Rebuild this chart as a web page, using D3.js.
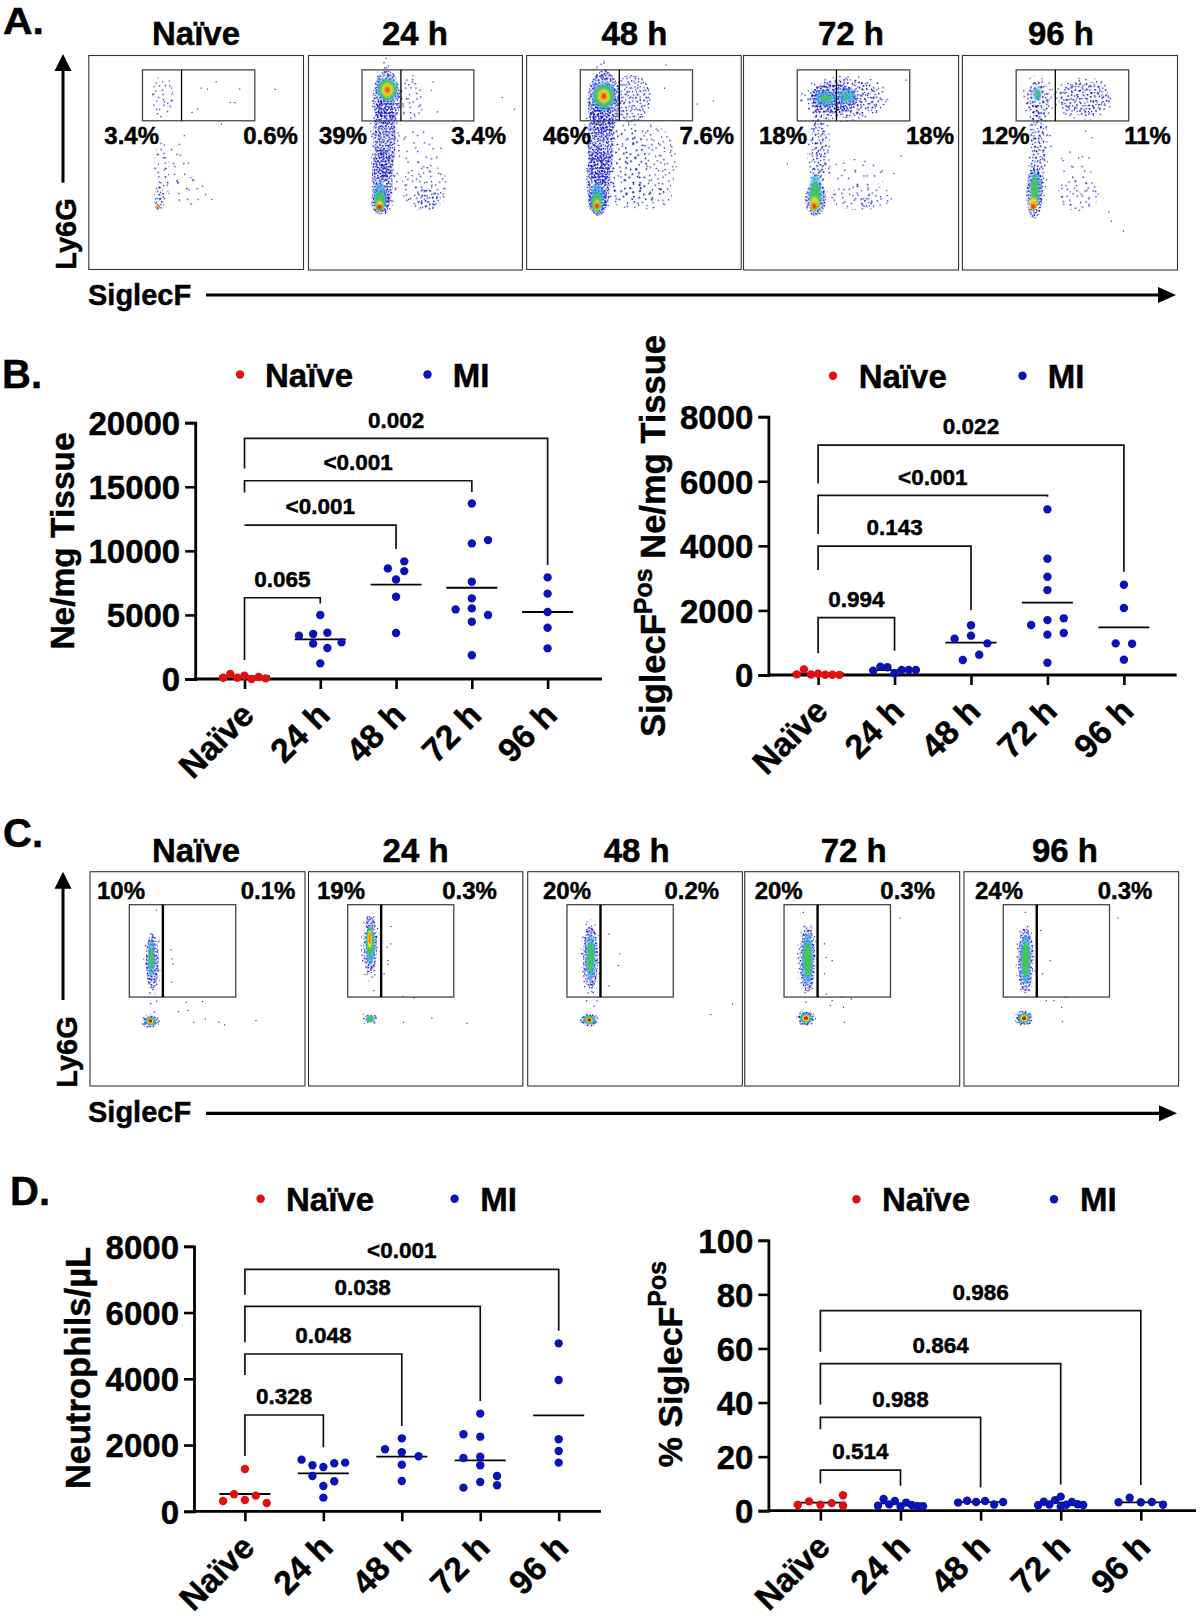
<!DOCTYPE html>
<html>
<head>
<meta charset="utf-8">
<script src="https://cdnjs.cloudflare.com/ajax/libs/d3/7.8.5/d3.min.js"></script>
<style>
body { margin: 0; background: #fff; }
text { font-family: "Liberation Sans", Arial, sans-serif; font-weight: bold; fill: #000; stroke: #000; stroke-width: 0.45px; }
</style>
</head>
<body>
<svg id="chart" width="1200" height="1620"></svg>
<script>
var _ = null; // empty swarm slot

var groups = ["Naïve", "24 h", "48 h", "72 h", "96 h"];
var pctTicks = [0, 20, 40, 60, 80, 100];
var neTicks = [0, 5000, 10000, 15000, 20000];
var k8Ticks = [0, 2000, 4000, 6000, 8000];

// swarm values, row by row inside each group
var neTissue = [
  [[100, 390, 100, 260, 0, 160, 50]],
  [[4990], [3380, 3510, 3610, 2860], [2760, 2420], [1220]],
  [[_, 9180], [8630, 8420], [7770], [6420], [3590]],
  [[13700], [_, 10580, 10840], [7590], [6290], [5430, 5510, 4990], [4470], [1850]],
  [[7930], [6660], [5230], [4000], [2390]]
];
var neTissueMeans = [200, 3090, 7360, 7120, 5230];
var neTissueBrackets = [
  ["0.065", 1, 6340, 1480, 5900],
  ["<0.001", 2, 12010, 12010, 10140],
  ["<0.001", 3, 15470, 14560, 14600],
  ["0.002", 4, 18770, 16430, 8890]
];

var siglecTissue = [
  [[20, 175, 15, 40, 10, 10, 5]],
  [[135, 260, 240, 50, 155, 155, 155]],
  [[1540], [1125, 1218, 980], [465, 630]],
  [[5130], [3600], [3045], [2630], [1550, 1700, 1755], [_, 1250, 1300], [380]],
  [[2797], [2074], [980, 970], [475]]
];
var siglecTissueMeans = [50, 150, 1000, 2240, 1476];
var siglecTissueBrackets = [
  ["0.994", 1, 1775, 670, 753],
  ["0.143", 2, 3994, 3250, 2012],
  ["<0.001", 3, 5562, 4365, 5520],
  ["0.022", 4, 7120, 5934, 3200]
];

var neutrophils = [
  [[1278], [513, _, 473], [312, _, 342, _, 250]],
  [[1559, 1388, 1338, 1449, 1469], [1066, _, 905], [765], [412]],
  [[2203], [1871, 1781, 1660], [1408], [915]],
  [[2948], [2324, 2253, _], [1610, 1650, _], [1388], [_, _, 1066], [_, 885, 785], [714, _, _]],
  [[5070], [3964], [2173], [1821], [1469]]
];
var neutrophilMeans = [523, 1147, 1650, 1540, 2897];
var neutrophilBrackets = [
  ["0.328", 1, 2907, 1670, 1931],
  ["0.048", 2, 4748, 4114, 2575],
  ["0.038", 3, 6187, 5100, 3330],
  ["<0.001", 4, 7304, 6539, 5453]
];

var siglecPct = [
  [[_, _, _, _, 5.7], [2.1, 3.45, 2.2, 2.8, 1.85]],
  [[1.85, 4.3, 2.35, 3.6, 1.5, 3.0, 2.1, 1.7, 1.6]],
  [[3.0, 3.7, 3.2, 3.6, 2.3, 3.2]],
  [[5.2], [2.0, 3.3, 2.3, 3.9, 1.5, 2.2, 3.2, 2.4, 2.1]],
  [[3.1, 4.8, 3.1, 3.2, 2.2]]
];
var siglecPctMeans = [3, 2.7, 3.2, 3, 3.1];
var siglecPctBrackets = [
  ["0.514", 1, 15.0, 10.1, 9.25],
  ["0.988", 2, 34.5, 30.1, 8.6],
  ["0.864", 3, 54.4, 39.3, 9.7],
  ["0.986", 4, 74.0, 58.8, 9.5]
];

// flow plots: percent gates read for each group
var gateA = { left: 25, mid: 43.2, right: 77.3, low: 69.5, high: 93.3 };
var gateC = { left: 18.3, mid: 33.9, right: 67.8, low: 41.5, high: 84.6 };
var percentA = [["3.4%", "0.6%"], ["39%", "3.4%"], ["46%", "7.6%"], ["18%", "18%"], ["12%", "11%"]];
var percentC = [["10%", "0.1%"], ["19%", "0.3%"], ["20%", "0.2%"], ["20%", "0.3%"], ["24%", "0.3%"]];

// density clouds: [level, x, y, rx, ry] on the 0-100 plot axes, level 0-3 blue speckle, 4-8 hot colours
var cloudsA = [
  [[1, 34.4, 80.7, 5, 10], [1, 33.9, 46, 3.6, 15], [2, 32.8, 33, 2.4, 6.5], [0, 46, 36.3, 9, 7], [0, 41, 48, 6, 12],
   [6, 32.3, 29.4, 0.8, 1.2], [8, 32.1, 29, 0.6, 0.7]],
  [[1, 36, 62, 7.2, 36], [3, 36.5, 80, 6.4, 13], [3, 35.5, 62, 5.2, 20], [3, 34.5, 42, 5, 15], [3, 33.6, 32, 4.4, 6],
   [1, 48, 80, 6, 11], [0, 52.6, 57, 10, 10], [1, 54.4, 38.6, 11, 11], [2, 56, 33, 6, 5],
   [4, 36.9, 84, 4.8, 5.8], [5, 36.9, 84, 3.8, 4.6], [6, 36.9, 84, 2.8, 3.2], [7, 36.9, 84, 1.6, 1.9], [8, 36.9, 84, 0.7, 0.9],
   [4, 33.5, 34, 2.8, 7], [5, 33.4, 32, 2.2, 4.6], [6, 33.3, 30, 1.6, 2.4], [8, 33.2, 29.2, 1.1, 1.3]],
  [[1, 35, 62, 8, 36], [3, 36, 78, 7.6, 15], [3, 34.5, 60, 6, 22], [3, 33.5, 41, 5.6, 16], [3, 33, 32, 4.6, 6], [2, 49, 80, 9, 11],
   [1, 47, 50, 9, 20], [1, 57, 50, 13, 18], [1, 53, 34, 15, 6],
   [4, 36, 81, 5.4, 6.4], [5, 36, 81, 4.4, 5], [6, 36, 81, 2.8, 3.2], [7, 36, 81, 1.7, 2], [8, 36, 81, 0.8, 1],
   [4, 32.9, 33, 2.8, 7], [5, 32.8, 31.5, 2.2, 4.4], [6, 32.8, 30.2, 1.6, 2.4], [8, 32.8, 29.8, 1, 1.2]],
  [[1, 47.1, 80, 21, 11], [2, 47, 80, 17, 9], [3, 42, 80, 11, 7], [1, 35, 54, 5.4, 27], [2, 35, 56, 3.4, 22], [3, 33.5, 33, 4.8, 8],
   [4, 38.3, 80, 5, 3.4], [4, 48, 81, 4, 3.2], [5, 38.3, 80, 2.4, 1.5], [5, 48, 81, 1.6, 1.1],
   [0, 53, 45, 14, 7], [1, 54.2, 34, 15, 6], [2, 57, 31.6, 3, 2.5],
   [4, 33.4, 36, 2.8, 8.5], [5, 33.3, 34, 2.3, 6.5], [6, 33, 31, 1.9, 3.2], [7, 32.9, 30, 1.3, 1.8], [8, 32.9, 29.6, 0.8, 1]],
  [[1, 35.2, 80, 7.5, 11], [2, 35.2, 80, 5.4, 8], [1, 56.5, 80, 14, 10], [2, 56.5, 80, 12, 8], [1, 35.2, 54, 4.6, 27], [2, 35, 54, 3.4, 24], [3, 33.5, 36, 3.8, 12],
   [0, 40, 60, 3, 8], [0, 53, 49, 8, 7], [1, 53.9, 35.5, 9.5, 8],
   [4, 34.9, 82, 2, 3], [5, 34.9, 82, 1, 1.6],
   [4, 33.8, 38, 2.2, 8], [5, 33.6, 37, 1.7, 6.5], [6, 33, 31, 1.8, 2.8], [7, 32.9, 30, 1.2, 1.6], [8, 32.9, 29.6, 0.8, 1]]
];
var straysA = [
  [[86.5, 84.4], [70, 84.6], [59, 88], [55, 84.6], [61.5, 68.2], [65.6, 78.3], [67.7, 78.3], [47.8, 73.7], [50.4, 75.2], [44.2, 62.8], [52, 85], [48, 42], [57, 33]],
  [[36, 99], [90.3, 80.7], [96, 75.2], [57, 84], [60, 74], [58, 88]],
  [[64.7, 95.8], [86.8, 79], [79.3, 77.6], [64, 85]],
  [[75.3, 88.8], [20.1, 49.8], [73, 53.4], [69.6, 45.3]],
  [[67.8, 27.3], [69, 23], [74.6, 18.4], [60, 62], [57, 65]]
];
var cloudsC = [
  [[1, 29, 58, 4.2, 16], [3, 29, 58, 3, 13], [0, 29, 37, 3.5, 5], [4, 28.5, 59.6, 1.7, 8.5], [5, 28.5, 59.6, 1, 4.5],
   [2, 28.1, 30.3, 4.6, 3.2], [3, 28.1, 30.3, 3.6, 2.6], [4, 28.1, 30.3, 2.8, 2.1], [5, 28.1, 30.3, 2.1, 1.6], [6, 28.1, 30.3, 1.4, 1.2], [8, 28.1, 30.3, 0.9, 0.8]],
  [[1, 28.8, 65, 4.5, 16.5], [3, 28.8, 66, 3.2, 13.5], [4, 28.8, 66, 2.2, 9], [5, 28.7, 67, 1.6, 6.5], [6, 28.6, 68.5, 1, 4.2], [7, 28.6, 69, 0.7, 2.8],
   [1, 28.8, 31.3, 4.6, 3.2], [2, 28.8, 31.3, 3, 2.2], [4, 28.8, 31.3, 2.2, 1.6], [5, 28.8, 31.3, 1.4, 1.1]],
  [[1, 29.3, 60, 4.8, 18], [3, 29.3, 60, 3.5, 15], [0, 30, 39, 3, 4], [4, 29.3, 60, 2.3, 10.5], [5, 29.3, 60, 1.5, 7],
   [2, 28.7, 30.8, 4.5, 3.2], [3, 28.7, 30.8, 3.6, 2.8], [4, 28.7, 30.8, 2.8, 2.2], [5, 28.7, 30.8, 2.1, 1.7], [6, 28.7, 30.8, 1.4, 1.2], [8, 28.7, 30.8, 0.9, 0.8]],
  [[1, 29.2, 59, 4.9, 17], [3, 29.2, 59, 3.7, 15], [0, 29, 40, 1.6, 3], [4, 29.2, 59, 2.6, 11.5], [5, 29.2, 59, 1.8, 8],
   [2, 28.5, 31.6, 4.6, 3.8], [3, 28.5, 31.6, 3.7, 3.1], [4, 28.5, 31.6, 2.9, 2.5], [5, 28.5, 31.6, 2.3, 1.9], [6, 28.5, 31.6, 1.6, 1.4], [8, 28.5, 31.6, 1, 0.9]],
  [[1, 28.7, 59, 4.7, 17], [3, 28.7, 59, 3.6, 15], [0, 28.5, 40, 1.6, 3], [4, 28.7, 59, 2.5, 11.5], [5, 28.7, 59, 1.7, 8],
   [2, 28, 31.6, 4.6, 3.8], [3, 28, 31.6, 3.7, 3.1], [4, 28, 31.6, 2.9, 2.5], [5, 28, 31.6, 2.3, 1.9], [6, 28, 31.6, 1.6, 1.4], [8, 28, 31.6, 1, 0.9]]
];
var straysC = [
  [[37.4, 63.8], [38.3, 57.2], [37.7, 48.7], [37.9, 59.6], [44.5, 39.3], [52.1, 39.7], [40.9, 35], [45.4, 35.5], [48, 30], [53.4, 31.6], [59.6, 30], [62.3, 28.8], [30.6, 82.4], [76.9, 30.8]],
  [[38.2, 74.7], [38.2, 66.6], [36.4, 65], [36.8, 58.8], [36.8, 57.2], [35, 52.6], [30.2, 44.8], [44, 42.1], [48.9, 41.4], [44, 30], [57.3, 31.9], [73.6, 29.5]],
  [[95.1, 38.6], [85, 33.6], [42.6, 61.9], [37.6, 71.2], [42, 56.5], [37.5, 47]],
  [[36.8, 66.6], [37.7, 60.3], [40.4, 58.8], [36.8, 52.6], [37.7, 43.2], [40.4, 40.1], [44.8, 41.7], [49.3, 40.9], [39.5, 37.8], [45.7, 37], [46.1, 30], [71.9, 78.7], [27, 81.3]],
  [[35.5, 72.8], [39.9, 58.8], [36.3, 52.6], [38.1, 40.1], [41.7, 40.1], [47, 41.7], [45.2, 37], [45.6, 30.3], [71.5, 78.7], [28.3, 81.3]]
];
// speckle tile, first entries used for the thin levels
var speckle = [[3,2],[13,5],[7,12],[17,15],[1,18],[10,9],[15,1],[5,7],[19,10],[12,17],
  [8,3],[2,11],[16,7],[6,16],[11,13],[18,19],[4,14],[14,11],[9,19],[0,5],
  [11,2],[6,4],[17,3],[1,8],[13,8],[8,7],[3,17],[15,17],[10,15],[19,13],
  [5,10],[16,12],[12,0],[2,5],[7,18],[18,6],[4,0],[9,12],[14,14],[0,14],
  [6,1],[15,9],[11,6],[3,9],[17,18],[8,15],[19,1],[13,19],[1,15],[5,13],
  [10,4],[16,4],[12,11],[7,9],[2,19],[18,16],[4,4],[14,6],[9,16],[0,11]];
var speckleCounts = [4, 10, 28, 60];
var speckleTiles = [{ name: "a", size: 20, turn: 17 }, { name: "b", size: 27, turn: -31 }];
var hotColors = { 4: "#35a9e6", 5: "#45c45c", 6: "#dfe22b", 7: "#f29a1f", 8: "#e01313" };

var RED = "#e01010";
var BLUE = "#0a14b4";

var svg = d3.select("#chart");
var defs = svg.append("defs");
defs.append("filter").attr("id", "soft").append("feGaussianBlur").attr("stdDeviation", 1.2);
defs.append("filter").attr("id", "tight").append("feGaussianBlur").attr("stdDeviation", 0.6);
speckleCounts.forEach(function(count, lvl) {
  speckleTiles.forEach(function(tile) {
    var k = tile.size / 20;
    var p = defs.append("pattern").attr("id", "speck" + tile.name + lvl)
      .attr("patternUnits", "userSpaceOnUse").attr("width", tile.size).attr("height", tile.size)
      .attr("patternTransform", "rotate(" + tile.turn + ")");
    p.selectAll("rect").data(speckle.slice(0, count)).enter().append("rect")
      .attr("x", function(d) { return d[0] * k; }).attr("y", function(d) { return d[1] * k; })
      .attr("width", 1.3).attr("height", 1.3).attr("fill", "#1418c8");
  });
});

function label(txt, x, y, size, anchor) {
  return svg.append("text").attr("x", x).attr("y", y).attr("font-size", size)
    .attr("text-anchor", anchor || "middle").text(txt);
}

function flowPlot(box, gate, clouds, strays, blur) {
  var x = d3.scaleLinear().domain([0, 100]).range([box[0], box[1]]);
  var y = d3.scaleLinear().domain([0, 100]).range([box[3], box[2]]);
  var g = svg.append("g");
  var cold = clouds.filter(function(d) { return d[0] < 4; });
  var hot = clouds.filter(function(d) { return d[0] >= 4; });
  function ellipses(sel) {
    sel.attr("cx", function(d) { return x(d[1]); }).attr("cy", function(d) { return y(d[2]); })
      .attr("rx", function(d) { return x(d[3]) - x(0); }).attr("ry", function(d) { return y(0) - y(d[4]); });
  }
  speckleTiles.forEach(function(tile) {
    g.append("g").selectAll("ellipse").data(cold).enter().append("ellipse").call(ellipses)
      .attr("fill", function(d) { return "url(#speck" + tile.name + d[0] + ")"; });
  });
  g.append("g").selectAll("ellipse").data(hot.slice().sort(function(a, b) { return a[0] - b[0]; })).enter().append("ellipse").call(ellipses)
    .attr("fill", function(d) { return hotColors[d[0]]; })
    .attr("filter", "url(#" + blur + ")")
    .attr("opacity", function(d) { return d[0] == 4 ? 0.7 : 1; });
  g.selectAll("rect.stray").data(strays).enter().append("rect").attr("class", "stray")
    .attr("x", function(d) { return x(d[0]); }).attr("y", function(d) { return y(d[1]); })
    .attr("width", 1.2).attr("height", 1.2).attr("fill", "#3a3aa0");
  g.append("rect").attr("x", box[0]).attr("y", box[2]).attr("width", box[1] - box[0]).attr("height", box[3] - box[2])
    .attr("fill", "none").attr("stroke", "#333").attr("stroke-width", 1.1);
  g.append("rect").attr("x", x(gate.left)).attr("y", y(gate.high))
    .attr("width", x(gate.right) - x(gate.left)).attr("height", y(gate.low) - y(gate.high))
    .attr("fill", "none").attr("stroke", "#444").attr("stroke-width", 1.3);
  g.append("line").attr("x1", x(gate.mid)).attr("x2", x(gate.mid)).attr("y1", y(gate.high)).attr("y2", y(gate.low))
    .attr("stroke", "#000").attr("stroke-width", gate.midWidth || 1.3);
}

function arrows(axisX, headTop, shaftEnd, yTextMid, yBase, sigBase, arrowY, tip) {
  // Ly6G up arrow
  svg.append("line").attr("x1", axisX).attr("x2", axisX).attr("y1", headTop + 15).attr("y2", shaftEnd)
    .attr("stroke", "#000").attr("stroke-width", 3);
  svg.append("path").attr("d", d3.line()([[axisX - 8.5, headTop + 17], [axisX, headTop], [axisX + 8.5, headTop + 17]]) + "Z");
  svg.append("text").attr("transform", "translate(" + yBase + "," + yTextMid + ") rotate(-90)")
    .attr("font-size", 29).attr("text-anchor", "middle").text("Ly6G");
  // SiglecF right arrow
  label("SiglecF", 88, sigBase, 29, "start");
  svg.append("line").attr("x1", 206).attr("x2", tip - 16).attr("y1", arrowY).attr("y2", arrowY)
    .attr("stroke", "#000").attr("stroke-width", 3.2);
  svg.append("path").attr("d", d3.line()([[tip - 18, arrowY - 8], [tip, arrowY], [tip - 18, arrowY + 8]]) + "Z");
}

function legend(y, dot1, text1, dot2, text2) {
  svg.append("circle").attr("cx", dot1).attr("cy", y).attr("r", 4.2).attr("fill", RED);
  label("Naïve", text1, y + 12, 33, "start");
  svg.append("circle").attr("cx", dot2).attr("cy", y).attr("r", 4.2).attr("fill", BLUE);
  label("MI", text2, y + 12, 33, "start");
}

function scatter(c) {
  var g = svg.append("g");
  var x = d3.scalePoint().domain(groups).range([c.first, c.last]);
  var y = d3.scaleLinear().domain([0, c.ticks[c.ticks.length - 1]]).range([c.base, c.top]);

  var yAxis = g.append("g").attr("transform", "translate(" + c.left + ",0)")
    .call(d3.axisLeft(y).tickValues(c.ticks).tickSize(10).tickPadding(5).tickFormat(d3.format("d")));
  yAxis.selectAll("text").attr("font-size", 33).attr("font-family", null).attr("dy", "0.36em");
  var xAxis = g.append("g").attr("transform", "translate(0," + c.base + ")")
    .call(d3.axisBottom(x).tickSize(10).tickSizeOuter(0));
  xAxis.select(".domain").remove();
  xAxis.selectAll("text").attr("font-size", 33.5).attr("font-family", null).attr("text-anchor", "end")
    .attr("dy", null).attr("y", 0)
    .attr("transform", "translate(11,38) rotate(-45)");
  g.selectAll(".tick line").attr("stroke", "#000").attr("stroke-width", 2.6);
  yAxis.select(".domain").attr("stroke", "#000").attr("stroke-width", 2.8);
  g.append("line").attr("x1", c.left - 1).attr("x2", c.right).attr("y1", c.base).attr("y2", c.base)
    .attr("stroke", "#000").attr("stroke-width", 2.8);

  // brackets
  c.brackets.forEach(function(b) {
    var x0 = x(groups[0]), x1 = x(groups[b[1]]);
    g.append("path").attr("fill", "none").attr("stroke", "#111").attr("stroke-width", 1.7)
      .attr("d", d3.line()([[x0, y(b[3])], [x0, y(b[2])], [x1, y(b[2])], [x1, y(b[4])]]));
    g.append("text").attr("x", (x0 + x1) / 2).attr("y", y(b[2]) - 19).attr("dy", "0.36em")
      .attr("text-anchor", "middle").attr("font-size", 22.5).text(b[0]);
  });

  // mean lines then dots
  g.selectAll("line.mean").data(c.means).enter().append("line").attr("class", "mean")
    .attr("x1", function(d, i) { return x(groups[i]) - 25.5; })
    .attr("x2", function(d, i) { return x(groups[i]) + 25.5; })
    .attr("y1", function(d) { return y(d); }).attr("y2", function(d) { return y(d); })
    .attr("stroke", "#000").attr("stroke-width", 1.8);

  var pts = [];
  c.rows.forEach(function(rows, gi) {
    rows.forEach(function(row) {
      row.forEach(function(v, i) {
        if (v === null) return;
        pts.push({ g: gi, v: v, off: (i - (row.length - 1) / 2) * c.slots[gi] });
      });
    });
  });
  g.selectAll("circle").data(pts).enter().append("circle")
    .attr("cx", function(d) { return x(groups[d.g]) + d.off; })
    .attr("cy", function(d) { return y(d.v); })
    .attr("r", 4.2)
    .attr("fill", function(d) { return d.g == 0 ? RED : BLUE; });

  // y title, may carry a raised Pos
  var t = g.append("text").attr("transform", "translate(" + c.titleX + "," + c.titleY + ") rotate(-90)")
    .attr("text-anchor", "middle").attr("font-size", c.titleSize);
  c.title.forEach(function(part) {
    var s = t.append("tspan").text(part[0]);
    if (part[1]) s.attr("font-size", 25).attr("dy", -c.supShift);
    if (part[2]) s.attr("dy", c.supShift);
  });
}

// panel A
var boxesA = [[88.8, 303.5, 55.5, 269.5], [308.5, 522.4, 55.5, 270], [526.6, 741.2, 55.5, 269.5], [743.5, 958.6, 55.5, 270], [962.4, 1177.5, 55.5, 270]];
var titleXA = [196, 415, 634.5, 851, 1061];
var pctXA = [[131.7, 270.5], [343, 478.7], [567, 706.8], [783, 930], [1005.6, 1147.6]];
groups.forEach(function(name, i) {
  flowPlot(boxesA[i], gateA, cloudsA[i], straysA[i], "soft");
  label(name, titleXA[i], 45, 33);
  label(percentA[i][0], pctXA[i][0], 143.5, 24);
  label(percentA[i][1], pctXA[i][1], 143.5, 24);
});
arrows(63, 54, 182.7, 234, 76, 305, 295, 1176);
label("A.", 3, 34, 36, "start").attr("textLength", 41).attr("lengthAdjust", "spacingAndGlyphs");

// panel C
var boxesC = [[90, 305, 871.7, 1086], [308.5, 522.8, 871.7, 1086], [527.7, 742.4, 871.7, 1086], [744.7, 959.7, 871.7, 1086], [964, 1178.6, 871.7, 1086]];
var titleXC = [196, 415.6, 636.7, 853.7, 1065];
var pctXC = [[121, 268], [341, 469.6], [567, 691.8], [778.7, 907.7], [999, 1125]];
groups.forEach(function(name, i) {
  var g = { left: gateC.left, mid: gateC.mid, right: gateC.right, low: gateC.low, high: gateC.high, midWidth: 2.4 };
  flowPlot(boxesC[i], g, cloudsC[i], straysC[i], "tight");
  label(name, titleXC[i], 862, 33);
  label(percentC[i][0], pctXC[i][0], 898.5, 24);
  label(percentC[i][1], pctXC[i][1], 898.5, 24);
});
arrows(63, 871.7, 1000, 1052, 76.5, 1122, 1113.3, 1177);
label("C.", 3, 846.7, 40, "start");

// panel B
label("B.", 2, 388, 40, "start");
legend(374.5, 240, 265, 427.5, 452.7);
legend(375.7, 833, 858.7, 1022.5, 1047.8);
scatter({
  rows: neTissue, means: neTissueMeans, brackets: neTissueBrackets, ticks: neTicks,
  slots: [7.1, 14.2, 16.4, 16.2, 8], first: 244.5, last: 547.6, left: 195.2, right: 602, base: 679, top: 422.7,
  title: [["Ne/mg Tissue"]], titleX: 74, titleY: 541, titleSize: 33.5, supShift: 0
});
scatter({
  rows: siglecTissue, means: siglecTissueMeans, brackets: siglecTissueBrackets, ticks: k8Ticks,
  slots: [7.1, 7.1, 16.4, 16.3, 16.4], first: 818.1, last: 1123.9, left: 768.4, right: 1176.7, base: 675, top: 416.7,
  title: [["SiglecF"], ["Pos", 1], [" Ne/mg Tissue", 0, 1]], titleX: 665, titleY: 536, titleSize: 34.5, supShift: 13
});

// panel D
label("D.", 10, 1205, 40, "start");
legend(1198.7, 260.6, 286, 454.6, 480.3);
legend(1199.3, 856.4, 882, 1054, 1080);
scatter({
  rows: neutrophils, means: neutrophilMeans, brackets: neutrophilBrackets, ticks: k8Ticks,
  slots: [10.9, 10.9, 16.8, 16.8, 8], first: 244.9, last: 558.7, left: 194, right: 601, base: 1511.3, top: 1246.3,
  title: [["Neutrophils/µL"]], titleX: 90, titleY: 1368, titleSize: 34.5, supShift: 0
});
scatter({
  rows: siglecPct, means: siglecPctMeans, brackets: siglecPctBrackets, ticks: pctTicks,
  slots: [11.3, 5.63, 9, 5.63, 11.1], first: 820.4, last: 1140.8, left: 768.4, right: 1196, base: 1510.7, top: 1240.3,
  title: [["% SiglecF"], ["Pos", 1]], titleX: 681.5, titleY: 1364, titleSize: 34, supShift: 16
});
</script>
</body>
</html>
